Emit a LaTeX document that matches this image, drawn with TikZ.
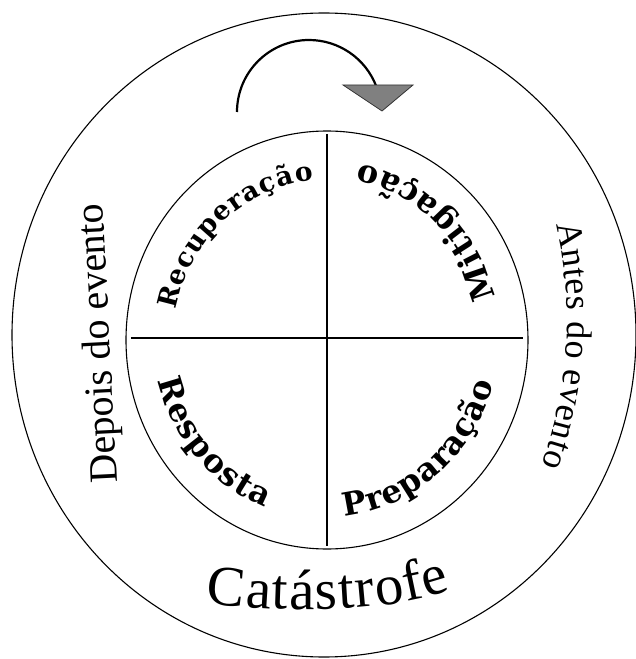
\documentclass[tikz,border=0pt]{standalone}
\usepackage{fontspec}
\setmainfont{Liberation Serif}
\newfontfamily\phasefont{DejaVu Serif}
\newcommand\phasesize{\fontsize{26.5}{27}\selectfont}
\newcommand\bigphasesize{\fontsize{32}{32}\selectfont}
\newcommand\sidesize{\fontsize{36}{36}\selectfont}
\newcommand\titlesize{\fontsize{57}{57}\selectfont}
\usetikzlibrary{calc,decorations.text}

\begin{document}
\begin{tikzpicture}[x=1pt, y=1pt,
    ring/.style={line width=1.1pt},
    phase/.style={decorate, decoration={text along path, text align={fit to path},
        text={|\phasefont\bfseries\phasesize|#1}}},
    bigphase/.style={decorate, decoration={text along path, text align={fit to path},
        text={|\phasefont\bfseries\bigphasesize|#1}}},
    side/.style={decorate, decoration={text along path, text align={fit to path},
        text={|\sidesize|#1}}}]
    \pgfmathsetmacro{\innerx}{201}
    \pgfmathsetmacro{\innery}{209}
\useasboundingbox (-327,-319) rectangle (309,340);

% outer and inner ring
\draw[ring] (-3,5) ellipse [x radius=312, y radius=322];
\draw[ring] (0,0) ellipse [x radius=\innerx, y radius=\innery];

% the cross
\coordinate (cross-w) at (-196,2);
\coordinate (cross-e) at (196,2);
\coordinate (cross-n) at (0,206);
\coordinate (cross-s) at (0,-206);
\draw[ring] (cross-w) -- (cross-e);
\draw[ring] (cross-n) -- (cross-s);

% turning arrow on top
\coordinate (turn-start) at (-90,228);
\draw[line width=2.2pt] (turn-start) arc [start angle=180, end angle=21, radius=72];
\draw[fill=gray, draw=black!80, line width=0.8pt] (16,255) -- (86,255) -- (55,229) -- cycle;

% the four phases
\path[phase=Recuperação] (169:154 and 160) arc [start angle=169, end angle=95, x radius=154, y radius=160];
\path[bigphase=Mitigação] (14:173 and 179) arc [start angle=14, end angle=79, x radius=173, y radius=179];
\path[bigphase=Resposta] (193:173 and 179) arc [start angle=193, end angle=249, x radius=173, y radius=179];
\path[bigphase=Preparação] (276:171 and 177) arc [start angle=276, end angle=346, x radius=171, y radius=177];

% before and after
\node[font=\fontsize{40}{40}\selectfont, rotate=92.9, anchor=base] (after) at (-217,-3) {Depois do evento};
\path[side=Antes do evento] ($(-185,20)+(13:425)$) arc [start angle=13, end angle=-20, radius=425];

% Label for the event
\path[decorate, decoration={text along path, text align={fit to path}, text={|\titlesize|Catástrofe}}]
    (-121,-263) .. controls (-37,-274) and (63,-272) .. (124,-250);

\end{tikzpicture}
\end{document}
